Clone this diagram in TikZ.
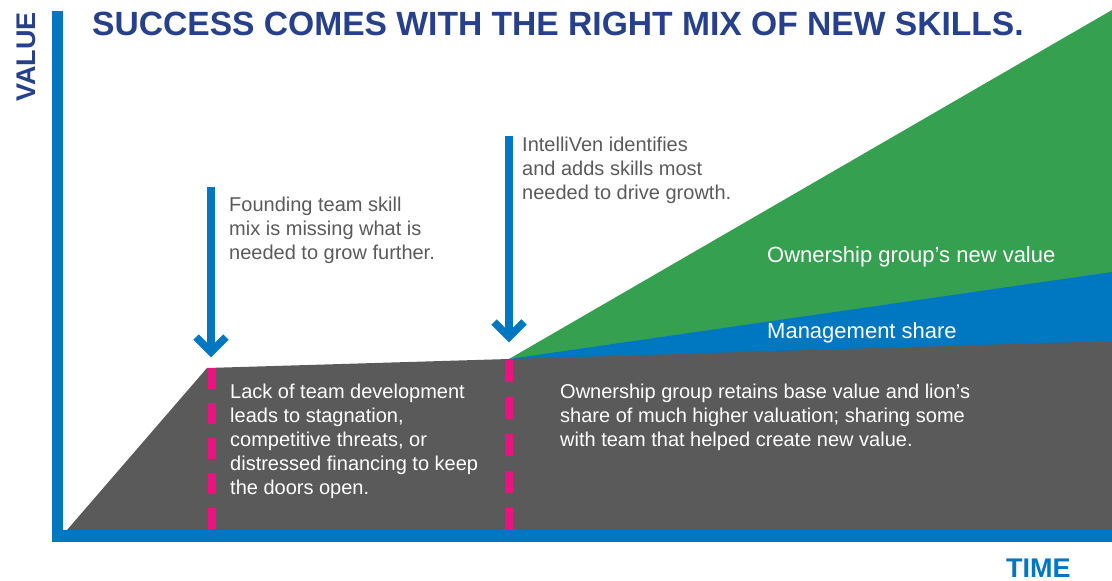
\documentclass[tikz,border=0pt]{standalone}
\usepackage{fontspec}
\setmainfont{Liberation Sans}
\usetikzlibrary{calc}
\definecolor{axisblue}{RGB}{0,119,193}
\definecolor{titlenavy}{RGB}{38,64,140}
\definecolor{areagreen}{RGB}{53,160,80}
\definecolor{areagray}{RGB}{90,90,90}
\definecolor{dashpink}{RGB}{236,19,128}
\definecolor{capgray}{RGB}{90,90,90}
\tikzset{
  axisbar/.style={fill=axisblue, draw=none},
  pinkdash/.style={draw=dashpink, line width=8pt, dash pattern=on 21pt off 14pt},
  pinkdashb/.style={draw=dashpink, line width=8pt, dash pattern=on 22pt off 15pt},
  downarrow/.style={draw=axisblue, line width=7.5pt, line join=miter},
  captext/.style={anchor=north west, inner sep=0pt, align=left, text=capgray, font=\fontsize{20}{24}\selectfont},
  areatext/.style={anchor=north west, inner sep=0pt, align=left, text=white, font=\fontsize{20}{24}\selectfont},
  arealabel/.style={anchor=base west, inner sep=0pt, text=white, font=\fontsize{22}{26}\selectfont},
  axislabel/.style={inner sep=0pt, font=\fontsize{27}{30}\selectfont\bfseries},
}
\begin{document}
\begin{tikzpicture}[x=1pt,y=-1pt]
\useasboundingbox (0,0) rectangle (1112,581);
% key points
\coordinate (origin) at (67,530);
\coordinate (p1) at (207,368);
\coordinate (p2) at (509,359);
\coordinate (rgray) at (1112,341);
\coordinate (rblue) at (1112,272);
\coordinate (rgreen) at (1112,10);
\coordinate (rbot) at (1112,530);
\coordinate (ugreen) at (1112,300);
\coordinate (ublue) at (1112,360);
% areas (each drawn slightly under the next to avoid seams)
\fill[areagreen] (p2) -- (rgreen) -- (ugreen) -- cycle;
\fill[axisblue] (p2) -- (rblue) -- (ublue) -- cycle;
\fill[areagray] (origin) -- (p1) -- (p2) -- (rgray) -- (rbot) -- cycle;
% axes
\fill[axisbar] (52,11) rectangle (63,542);
\fill[axisbar] (52,530) rectangle (1112,542);
% dashed markers
\coordinate (d1top) at (211.5,368);
\coordinate (d1bot) at (211.5,530);
\coordinate (d2top) at (509,360);
\coordinate (d2bot) at (509,530);
\draw[pinkdash] (d1top) -- (d1bot);
\draw[pinkdashb] (d2top) -- (d2bot);
% arrows
\coordinate (a1top) at (211,187);
\coordinate (a1tip) at (211,352);
\coordinate (a2top) at (509,136);
\coordinate (a2tip) at (509,337);
\draw[downarrow] (a1top) -- (a1tip);
\draw[downarrow] ($(a1tip)+(-15,-15)$) -- (a1tip) -- ($(a1tip)+(15,-15)$);
\draw[downarrow] (a2top) -- (a2tip);
\draw[downarrow] ($(a2tip)+(-15,-15)$) -- (a2tip) -- ($(a2tip)+(15,-15)$);
% title and axis labels
\node[anchor=base west, inner sep=0pt, text=titlenavy, font=\fontsize{33.6}{36}\selectfont\bfseries] (title) at (92,35) {SUCCESS COMES WITH THE RIGHT MIX OF NEW SKILLS.};
\node[axislabel, text=titlenavy, anchor=base west, rotate=90] (value) at (35,102) {VALUE};
\node[axislabel, text=axisblue, anchor=base west] (time) at (1006,577) {TIME};
% captions
\node[captext] (founding) at (229,194.2) {\strut Founding team skill\\mix is missing what is\\needed to grow further.};
\node[captext] (intelliven) at (522,134.2) {\strut IntelliVen identifies\\and adds skills most\\needed to drive growth.};
\node[arealabel] (newvalue) at (767,262) {Ownership group’s new value};
\node[arealabel] (mgmt) at (767,338) {Management share};
\node[areatext] (lack) at (230,381.2) {\strut Lack of team development\\leads to stagnation,\\competitive threats, or\\distressed financing to keep\\the doors open.};
\node[areatext] (retains) at (560,381.2) {\strut Ownership group retains base value and lion’s\\share of much higher valuation; sharing some\\with team that helped create new value.};
\end{tikzpicture}
\end{document}
